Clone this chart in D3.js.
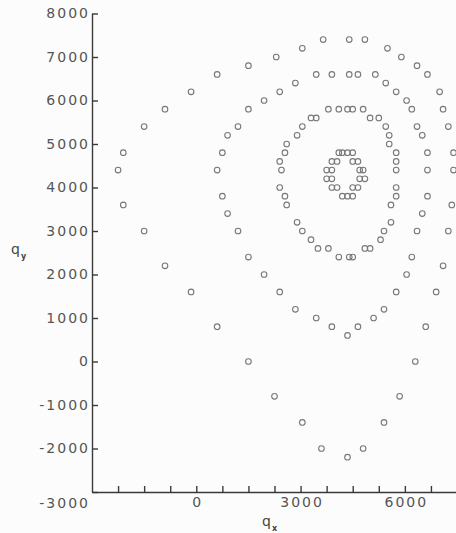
<!DOCTYPE html>
<html>
<head>
<meta charset="utf-8">
<script src="https://cdn.jsdelivr.net/npm/d3@7"></script>
<style>
  body { margin: 0; background: #fcfcfc; }
  svg { display: block; background: #fcfcfc; }
  .axis text { font-family: "DejaVu Sans", sans-serif; font-size: 14px; fill: #555; letter-spacing: 2px; }
  .axis path, .axis line { stroke: #3a3a3a; stroke-width: 1.4; }
  .lbl { font-family: "DejaVu Sans", sans-serif; fill: #444; }
</style>
</head>
<body>
<svg class="chart"></svg>
<script>
const width = 456,
  height = 533;

// points, [qx, qy]
const outerRing = [
  [3650, 7400], [4400, 7400], [4850, 7400], [5500, 7200], [5900, 7000], [6350, 6800],
  [6650, 6600], [7000, 6200], [7100, 5800], [7250, 5400], [7400, 4800], [7400, 4400],
  [7350, 3600], [7250, 3000], [7100, 2200], [6900, 1600], [6600, 800], [6300, 0],
  [5850, -800], [5400, -1400], [4800, -2000], [4350, -2200], [3600, -2000], [3050, -1400],
  [2250, -800], [1500, 0], [600, 800], [-150, 1600], [-900, 2200], [-1500, 3000],
  [-2100, 3600], [-2250, 4400], [-2100, 4800], [-1500, 5400], [-900, 5800], [-150, 6200],
  [600, 6600], [1500, 6800], [2300, 7000], [3050, 7200]
];
const secondRing = [
  [3450, 6600], [3900, 6600], [4400, 6600], [4650, 6600], [5150, 6600], [5450, 6400],
  [5750, 6200], [6050, 6000], [6200, 5800], [6350, 5400], [6500, 5200], [6650, 4800],
  [6650, 4400], [6650, 3800], [6500, 3400], [6350, 3000], [6200, 2400], [6050, 2000],
  [5750, 1600], [5400, 1200], [5100, 1000], [4650, 800], [4350, 600], [3900, 800],
  [3450, 1000], [2850, 1200], [2400, 1600], [1950, 2000], [1500, 2400], [1200, 3000],
  [900, 3400], [750, 3800], [600, 4400], [750, 4800], [900, 5200], [1200, 5400],
  [1500, 5800], [1950, 6000], [2400, 6200], [2850, 6400]
];
const thirdRing = [
  [3300, 5600], [3450, 5600], [3800, 5800], [4100, 5800], [4350, 5800], [4500, 5800],
  [4800, 5800], [5000, 5600], [5250, 5600], [5450, 5400], [5550, 5200], [5550, 5000],
  [5750, 4800], [5750, 4600], [5750, 4400], [5750, 4000], [5750, 3800], [5600, 3600],
  [5600, 3200], [5400, 3000], [5300, 2800], [5000, 2600], [4850, 2600], [4500, 2400],
  [4400, 2400], [4100, 2400], [3800, 2600], [3500, 2600], [3300, 2800], [3050, 3000],
  [2900, 3200], [2600, 3600], [2550, 3800], [2400, 4000], [2450, 4400], [2400, 4600],
  [2550, 4800], [2600, 5000], [2900, 5200], [3050, 5400]
];
const innerRing = [
  [4100, 4800], [4200, 4800], [4350, 4800], [4500, 4800],
  [3900, 4600], [4050, 4600], [4500, 4600], [4650, 4600],
  [3750, 4400], [3900, 4400], [4700, 4400], [4800, 4400],
  [3750, 4200], [3900, 4200], [4700, 4200], [4850, 4200],
  [3900, 4000], [4050, 4000], [4500, 4000], [4650, 4000],
  [4200, 3800], [4350, 3800], [4500, 3800]
];

const xTicks = [-2250, -1500, -750, 0, 750, 1500, 2250, 3000, 3750, 4500, 5250, 6000, 6750, 7500];
const xLabels = [0, 3000, 6000];
const yTicks = [8000, 7000, 6000, 5000, 4000, 3000, 2000, 1000, 0, -1000, -2000, -3000];

let x = d3.scaleLinear()
  .domain([-3000, 7500])
  .range([92, 457]);
let y = d3.scaleLinear()
  .domain([-3000, 8000])
  .range([492, 13.5]);

let chart = d3.select(".chart")
  .attr("width", width)
  .attr("height", height);

let xAxis = d3.axisBottom(x)
  .tickValues(xTicks)
  .tickSize(-6)
  .tickSizeOuter(0)
  .tickPadding(5)
  .tickFormat(d => xLabels.includes(d) ? String(d) : "");
chart.append("g")
  .attr("class", "axis")
  .attr("transform", `translate(0, ${y(-3000)})`)
  .call(xAxis)
  .selectAll("text")
  .attr("dx", "1px");

let yAxis = d3.axisLeft(y)
  .tickValues(yTicks)
  .tickSize(-6)
  .tickSizeOuter(0)
  .tickPadding(2)
  .tickFormat(d => String(d));
chart.append("g")
  .attr("class", "axis")
  .attr("transform", `translate(${x(-3000)}, 0)`)
  .call(yAxis)
  .selectAll(".tick")
  .each(function(d) {
    // the bottom label sits on the x label row in the original
    if (d === -3000) d3.select(this).select("text").attr("dy", "1.1em");
  });

const rings = [outerRing, secondRing, thirdRing, innerRing];
rings.forEach(ring => {
  chart.append("g")
    .selectAll("circle")
    .data(ring)
    .enter().append("circle")
    .attr("cx", d => x(d[0]))
    .attr("cy", d => y(d[1]))
    .attr("r", 2.8)
    .attr("fill", "none")
    .attr("stroke", "#777")
    .attr("stroke-width", 1.1);
});

// axis titles
let qx = chart.append("text")
  .attr("class", "lbl")
  .attr("x", 262)
  .attr("y", 526)
  .style("font-size", "14px")
  .text("q");
qx.append("tspan")
  .attr("dx", 1)
  .attr("dy", 5)
  .style("font-size", "8px")
  .style("font-weight", "bold")
  .text("x");

let qy = chart.append("text")
  .attr("class", "lbl")
  .attr("x", 11)
  .attr("y", 254)
  .style("font-size", "14px")
  .text("q");
qy.append("tspan")
  .attr("dx", 1)
  .attr("dy", 5)
  .style("font-size", "8px")
  .style("font-weight", "bold")
  .text("y");
</script>
</body>
</html>
